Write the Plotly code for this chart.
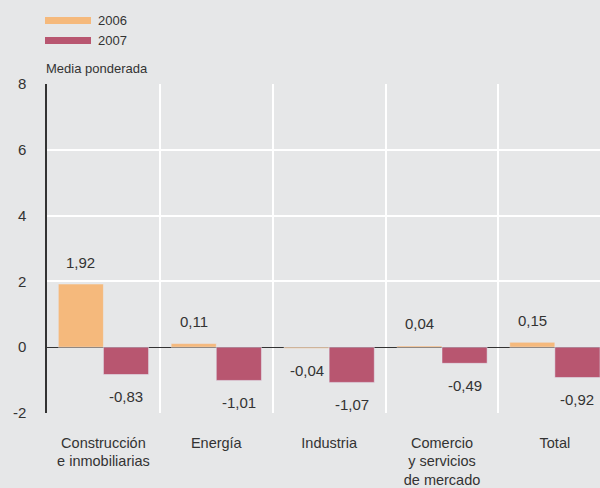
import plotly.graph_objects as go

categorias = ["Construcción<br>e inmobiliarias", "Energía", "Industria",
              "Comercio<br>y servicios<br>de mercado", "Total"]
valores_2006 = [1.92, 0.11, -0.04, 0.04, 0.15]
valores_2007 = [-0.83, -1.01, -1.07, -0.49, -0.92]
y_ticks = [-2, 0, 2, 4, 6, 8]

naranja = "#f5b97c"
granate = "#b85670"
fondo = "#e6e7e8"
texto = "#333333"
fuente = "Liberation Sans, Arial, sans-serif"

# area del grafico en pixeles
ancho, alto = 553, 329

x = list(range(len(categorias)))

fig = go.Figure()
fig.add_trace(go.Bar(x=x, y=valores_2006, name="2006", marker_color=naranja))
fig.add_trace(go.Bar(x=x, y=valores_2007, name="2007", marker_color=granate))

def etiqueta(v):
    return ("%.2f" % v).replace(".", ",")

# etiquetas de valor, separadas del extremo de cada barra
for serie, desplaz in ((valores_2006, -0.2), (valores_2007, 0.2)):
    for i, v in enumerate(serie):
        fig.add_annotation(x=i + desplaz, y=v, text=etiqueta(v), showarrow=False,
                           yshift=22 if v >= 0 else -22,
                           font=dict(size=15, color=texto, family=fuente))

# leyenda dibujada a mano (barras anchas)
for k, (nombre, color) in enumerate((("2006", naranja), ("2007", granate))):
    top = 17 + 20 * k
    fig.add_shape(type="rect", xref="paper", yref="paper",
                  x0=-2 / ancho, x1=44 / ancho,
                  y0=(413 - top - 7) / alto, y1=(413 - top) / alto,
                  fillcolor=color, line_width=0, layer="above")
    fig.add_annotation(xref="paper", yref="paper", x=49 / ancho,
                       y=(413 - top - 3.5) / alto,
                       text=nombre, showarrow=False, xanchor="left", yanchor="middle",
                       font=dict(size=13, color=texto, family=fuente))

fig.add_annotation(xref="paper", yref="paper", x=-3 / ancho, y=(413 - 68) / alto,
                   text="Media ponderada", showarrow=False,
                   xanchor="left", yanchor="middle",
                   font=dict(size=13, color=texto, family=fuente))

fig.update_layout(
    width=600, height=488,
    margin=dict(l=47, r=0, t=84, b=75),
    paper_bgcolor=fondo, plot_bgcolor=fondo,
    barmode="group", bargap=0.2, bargroupgap=0,
    showlegend=False,
    font=dict(family=fuente, color=texto, size=14.5),
)
fig.update_xaxes(
    range=[-0.5, 4.4], tickvals=x, ticktext=categorias,
    showgrid=False, zeroline=False, showline=False, ticks="",
    ticklabelstandoff=19,
    minor=dict(tickvals=[0.5, 1.5, 2.5, 3.5], showgrid=True,
               gridcolor="white", gridwidth=2),
)
fig.update_yaxes(
    range=[-2, 8], tickvals=y_ticks, ticktext=[str(t) for t in y_ticks],
    showgrid=True, gridcolor="white", gridwidth=2,
    zeroline=True, zerolinecolor=texto, zerolinewidth=1,
    showline=True, linecolor=texto, linewidth=1.5,
    ticks="", ticklabelstandoff=16, tickfont=dict(size=15),
)

fig.write_html("out.html", config={"displayModeBar": False},
               post_script="document.body.style.margin='0';")
